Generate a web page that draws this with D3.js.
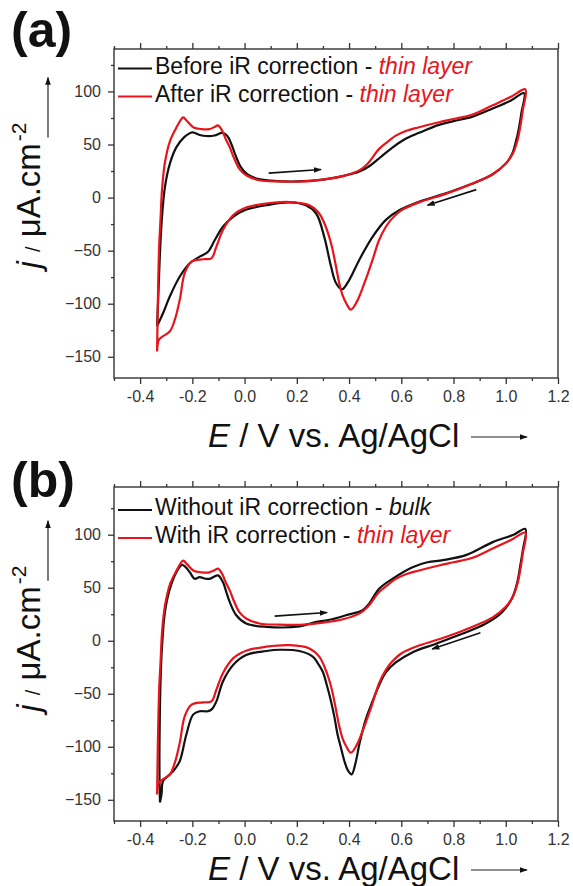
<!DOCTYPE html>
<html>
<head>
<meta charset="utf-8">
<script src="https://cdn.jsdelivr.net/npm/d3@7"></script>
<style>
body { margin: 0; background: #fff; }
svg { display: block; font-family: "Liberation Sans", Arial, sans-serif; }
</style>
</head>
<body>
<div id="cv-chart"></div>
<script>
//Cyclic voltammograms, [E in V, j in uA/cm2], each loop starts at the lower vertex

//(a) black - before iR correction, thin layer
var beforeIR = [
	[-0.335,-121],[-0.329,-84],[-0.324,-52],[-0.317,-21],[-0.305,10],[-0.286,32],[-0.261,47.5],
	[-0.231,57],[-0.2,61.5],[-0.172,59],[-0.146,58],[-0.115,58.5],[-0.085,61],[-0.066,58],
	[-0.05,50],[-0.035,40],[-0.015,29],[0.01,22],[0.045,18],[0.1,16],[0.2,15.2],[0.3,17],
	[0.38,20.5],[0.44,24.5],[0.48,30],[0.52,38],[0.56,46],[0.61,54.5],[0.668,61],[0.744,68.5],
	[0.8,72],[0.87,76],[0.95,84],[1.02,91.5],[1.07,98.5],
	[1.06,80],[1.05,65],[1.04,54],[1.024,41],[1.0,32],[0.95,22],[0.871,13],[0.77,4],
	[0.668,-4],[0.592,-12],[0.541,-21],[0.49,-37],[0.439,-58.75],[0.401,-77.5],[0.373,-86.5],
	[0.35,-80.5],[0.331,-65],[0.305,-37],[0.274,-15],[0.235,-7.2],[0.172,-4.5],[0.083,-7.2],
	[0,-11.9],[-0.044,-18.1],[-0.083,-27.5],[-0.114,-40],[-0.14,-51],[-0.172,-55.6],
	[-0.21,-61.9],[-0.248,-74.4],[-0.286,-93],[-0.312,-108.75],[-0.335,-121]
];

//red - after / with iR correction, thin layer (same curve in both panels)
var afterIR = [
	[-0.335,-145],[-0.333,-110],[-0.331,-84],[-0.327,-45],[-0.322,-21],[-0.316,8],[-0.305,33],
	[-0.286,53],[-0.261,66],[-0.245,73],[-0.235,75.5],[-0.22,72],[-0.195,66],[-0.165,64.5],
	[-0.135,64.5],[-0.115,66.5],[-0.102,68],[-0.088,64],[-0.072,55],[-0.057,47.5],[-0.04,37],
	[-0.02,27],[0.006,21],[0.057,16.3],[0.13,15.2],[0.21,15],[0.3,17],[0.38,20.5],[0.439,25.6],
	[0.471,31.9],[0.515,45.9],[0.55,53],[0.579,58.4],[0.62,63],[0.668,66.3],[0.744,71],
	[0.8,74],[0.87,78],[0.95,87],[1.02,95],[1.075,102],
	[1.065,82],[1.055,66],[1.045,54],[1.028,42],[1.0,32],[0.95,22],[0.871,13],[0.77,3.5],
	[0.668,-4.5],[0.6,-12],[0.56,-21],[0.541,-27.5],[0.515,-40],[0.49,-58.75],[0.47,-73],
	[0.452,-85],[0.43,-98],[0.407,-105.6],[0.39,-100],[0.375,-92],[0.362,-80],[0.35,-65],
	[0.336,-48],[0.324,-37],[0.305,-24],[0.286,-15],[0.248,-7.2],[0.172,-4.2],[0.083,-5.6],
	[0.006,-9.4],[-0.044,-16.6],[-0.083,-30.6],[-0.108,-46.25],[-0.127,-57.2],[-0.159,-58.1],
	[-0.203,-60.3],[-0.229,-71],[-0.248,-96],[-0.267,-115],[-0.286,-126],[-0.312,-130.6],
	[-0.328,-134],[-0.335,-145]
];

//(b) black - without iR correction, bulk
var bulkNoIR = [
	[-0.324,-152.5],[-0.326,-120],[-0.325,-80],[-0.322,-40],[-0.316,-5],[-0.305,27],[-0.286,49],
	[-0.261,64.7],[-0.24,71.5],[-0.228,70],[-0.21,64.7],[-0.191,58.4],[-0.172,60],[-0.15,58.5],
	[-0.134,58.4],[-0.102,61.6],[-0.083,55.3],[-0.07,46],[-0.057,36.6],[-0.032,24],[0.006,16.25],
	[0.083,13.1],[0.21,13.5],[0.261,17],[0.33,20],[0.388,24],[0.452,28.75],[0.477,35],[0.515,49],
	[0.566,58.4],[0.643,69.4],[0.7,74],[0.76,76],[0.85,81],[0.95,93],[1.03,100],[1.075,105.5],
	[1.065,85],[1.055,70],[1.045,56],[1.024,40],[0.986,27],[0.922,16],[0.833,6.5],[0.731,-3],
	[0.642,-11],[0.579,-20.5],[0.54,-30],[0.515,-42],[0.49,-57],[0.464,-74],[0.44,-97],
	[0.425,-115],[0.41,-126],[0.395,-122],[0.382,-113.4],[0.368,-100],[0.356,-88.4],[0.344,-72],
	[0.331,-57.2],[0.315,-42],[0.299,-29],[0.28,-21],[0.261,-15],[0.21,-9.7],[0.134,-8.5],
	[0.083,-9.7],[0.006,-13.4],[-0.044,-22.8],[-0.083,-38.4],[-0.108,-57.2],[-0.125,-64.5],
	[-0.14,-66.5],[-0.172,-66.5],[-0.197,-69.7],[-0.223,-88.4],[-0.248,-113.4],[-0.27,-122],
	[-0.286,-126],[-0.312,-132.2],[-0.318,-144.7],[-0.324,-152.5]
];

//Scan direction arrows, [E, j] from -> to
var arrowsA = [[[0.092,23],[0.293,26.5]], [[0.887,7.5],[0.70,-7.2]]];
var arrowsB = [[[0.115,23.2],[0.316,26.6]], [[0.903,7.5],[0.718,-7.8]]];

//Ticks
var xMajorTicks = [-0.4,-0.2,0.0,0.2,0.4,0.6,0.8,1.0,1.2];
var xMinorTicks = [-0.5,-0.3,-0.1,0.1,0.3,0.5,0.7,0.9,1.1];
var yMajorTicks = [-150,-100,-50,0,50,100];
var yMinorTicks = [-125,-75,-25,25,75,125];

var xDomain = [-0.5, 1.2];
var red = "#e8141b", black = "#111111", axisColor = "#333333";

var svg = d3.select("#cv-chart")
	.append("svg")
	.attr("width", 573)
	.attr("height", 886);

//Arrow head for the scan arrows and the axis titles
svg.append("defs").append("marker")
	.attr("id", "head")
	.attr("viewBox", "0 0 10 10")
	.attr("refX", 9).attr("refY", 5)
	.attr("markerWidth", 8).attr("markerHeight", 8)
	.attr("markerUnits", "userSpaceOnUse")
	.attr("orient", "auto")
	.append("path")
	.attr("d", "M0,1.5 L10,5 L0,8.5 Z")
	.attr("fill", black);

var panels = [
	{
		label: "(a)", labelY: 47, top: 49, bottom: 378, yDomain: [-170, 140],
		titleY: 447, legendY: [73.5, 101.5],
		series: [{data: beforeIR, color: black}, {data: afterIR, color: red}],
		legend: [
			{color: black, text: "Before iR correction - ", tail: "thin layer", tailColor: red},
			{color: red, text: "After iR correction - ", tail: "thin layer", tailColor: red}
		],
		arrows: arrowsA
	},
	{
		label: "(b)", labelY: 497, top: 487, bottom: 821, yDomain: [-170, 145],
		titleY: 880, legendY: [515, 543],
		series: [{data: bulkNoIR, color: black}, {data: afterIR, color: red}],
		legend: [
			{color: black, text: "Without iR correction - ", tail: "bulk", tailColor: black},
			{color: red, text: "With iR correction - ", tail: "thin layer", tailColor: red}
		],
		arrows: arrowsB
	}
];

panels.forEach(drawPanel);

function drawPanel(p)
{
	var x = d3.scaleLinear().domain(xDomain).range([114, 558]);
	var y = d3.scaleLinear().domain(p.yDomain).range([p.bottom, p.top]);
	var g = svg.append("g");

	//Bottom axis, majors with labels and minors without
	g.append("g")
		.attr("class", "axis")
		.attr("transform", "translate(0," + p.bottom + ")")
		.call(d3.axisBottom(x).tickValues(xMajorTicks).tickSize(6).tickPadding(7)
			.tickFormat(function(d){ return d.toFixed(1); }));
	g.append("g")
		.attr("class", "axis")
		.attr("transform", "translate(0," + p.bottom + ")")
		.call(d3.axisBottom(x).tickValues(xMinorTicks).tickSize(3).tickFormat(""));

	//Top axis, ticks only
	g.append("g")
		.attr("class", "axis")
		.attr("transform", "translate(0," + p.top + ")")
		.call(d3.axisTop(x).tickValues(xMajorTicks).tickSize(6).tickFormat(""));
	g.append("g")
		.attr("class", "axis")
		.attr("transform", "translate(0," + p.top + ")")
		.call(d3.axisTop(x).tickValues(xMinorTicks).tickSize(3).tickFormat(""));

	//Left axis
	g.append("g")
		.attr("class", "axis")
		.attr("transform", "translate(114,0)")
		.call(d3.axisLeft(y).tickValues(yMajorTicks).tickSize(6).tickPadding(7));
	g.append("g")
		.attr("class", "axis")
		.attr("transform", "translate(114,0)")
		.call(d3.axisLeft(y).tickValues(yMinorTicks).tickSize(3).tickFormat(""));

	g.selectAll(".axis .domain").remove();
	g.selectAll(".axis line").attr("stroke", axisColor).attr("stroke-width", 1.3);
	g.selectAll(".axis text")
		.attr("fill", "#333")
		.style("font-size", "16px")
		.style("font-family", "'Liberation Sans', Arial, sans-serif");

	//Frame
	g.append("rect")
		.attr("x", 114).attr("y", p.top)
		.attr("width", 558 - 114).attr("height", p.bottom - p.top)
		.attr("fill", "none")
		.attr("stroke", axisColor)
		.attr("stroke-width", 1.4);

	//Curves
	var line = d3.line()
		.x(function(d){ return x(d[0]); })
		.y(function(d){ return y(d[1]); })
		.curve(d3.curveCatmullRom.alpha(0.5));

	p.series.forEach(function(s)
	{
		g.append("path")
			.datum(s.data)
			.attr("fill", "none")
			.attr("stroke", s.color)
			.attr("stroke-width", 2.2)
			.attr("stroke-linejoin", "round")
			.attr("d", line);
	});

	//Scan direction arrows
	p.arrows.forEach(function(a)
	{
		g.append("line")
			.attr("x1", x(a[0][0])).attr("y1", y(a[0][1]))
			.attr("x2", x(a[1][0])).attr("y2", y(a[1][1]))
			.attr("stroke", black)
			.attr("stroke-width", 1.6)
			.attr("marker-end", "url(#head)");
	});

	//Legend
	p.legend.forEach(function(l, i)
	{
		var ly = p.legendY[i];
		g.append("line")
			.attr("x1", 118).attr("x2", 152)
			.attr("y1", ly - 5).attr("y2", ly - 5)
			.attr("stroke", l.color)
			.attr("stroke-width", 2.2);
		var t = g.append("text")
			.attr("x", 155).attr("y", ly)
			.style("font-size", "23px")
			.attr("fill", "#111");
		t.append("tspan").text(l.text);
		t.append("tspan")
			.style("font-style", "italic")
			.attr("fill", l.tailColor)
			.text(l.tail);
	});

	//Panel label
	g.append("text")
		.attr("x", 11).attr("y", p.labelY)
		.style("font-size", "50px")
		.style("font-weight", "bold")
		.attr("fill", "#111")
		.text(p.label);

	//Y title with arrow
	var y0 = y(0);
	var yt = g.append("text")
		.attr("transform", "translate(40," + (y0 + 71) + ") rotate(-90)")
		.style("font-size", "33px")
		.attr("fill", "#111");
	yt.append("tspan").style("font-style", "italic").text("j");
	yt.append("tspan").text(" ");
	yt.append("tspan").style("font-size", "20px").text("/");
	yt.append("tspan").text(" \u03bcA.cm");
	yt.append("tspan").style("font-size", "21px").attr("dx", 2).attr("dy", -14).text("-2");

	g.append("line")
		.attr("x1", 48).attr("x2", 48)
		.attr("y1", y0 - 60).attr("y2", y0 - 120)
		.attr("stroke", "#222")
		.attr("stroke-width", 1.2)
		.attr("marker-end", "url(#head)");

	//X title with arrow
	var xt = g.append("text")
		.attr("x", 208).attr("y", p.titleY)
		.style("font-size", "33px")
		.attr("fill", "#111");
	xt.append("tspan").style("font-style", "italic").text("E");
	xt.append("tspan").text(" / V vs. Ag/AgCl");

	g.append("line")
		.attr("x1", 471).attr("x2", 527)
		.attr("y1", p.titleY - 10).attr("y2", p.titleY - 10)
		.attr("stroke", "#222")
		.attr("stroke-width", 1.2)
		.attr("marker-end", "url(#head)");
}
</script>
</body>
</html>
